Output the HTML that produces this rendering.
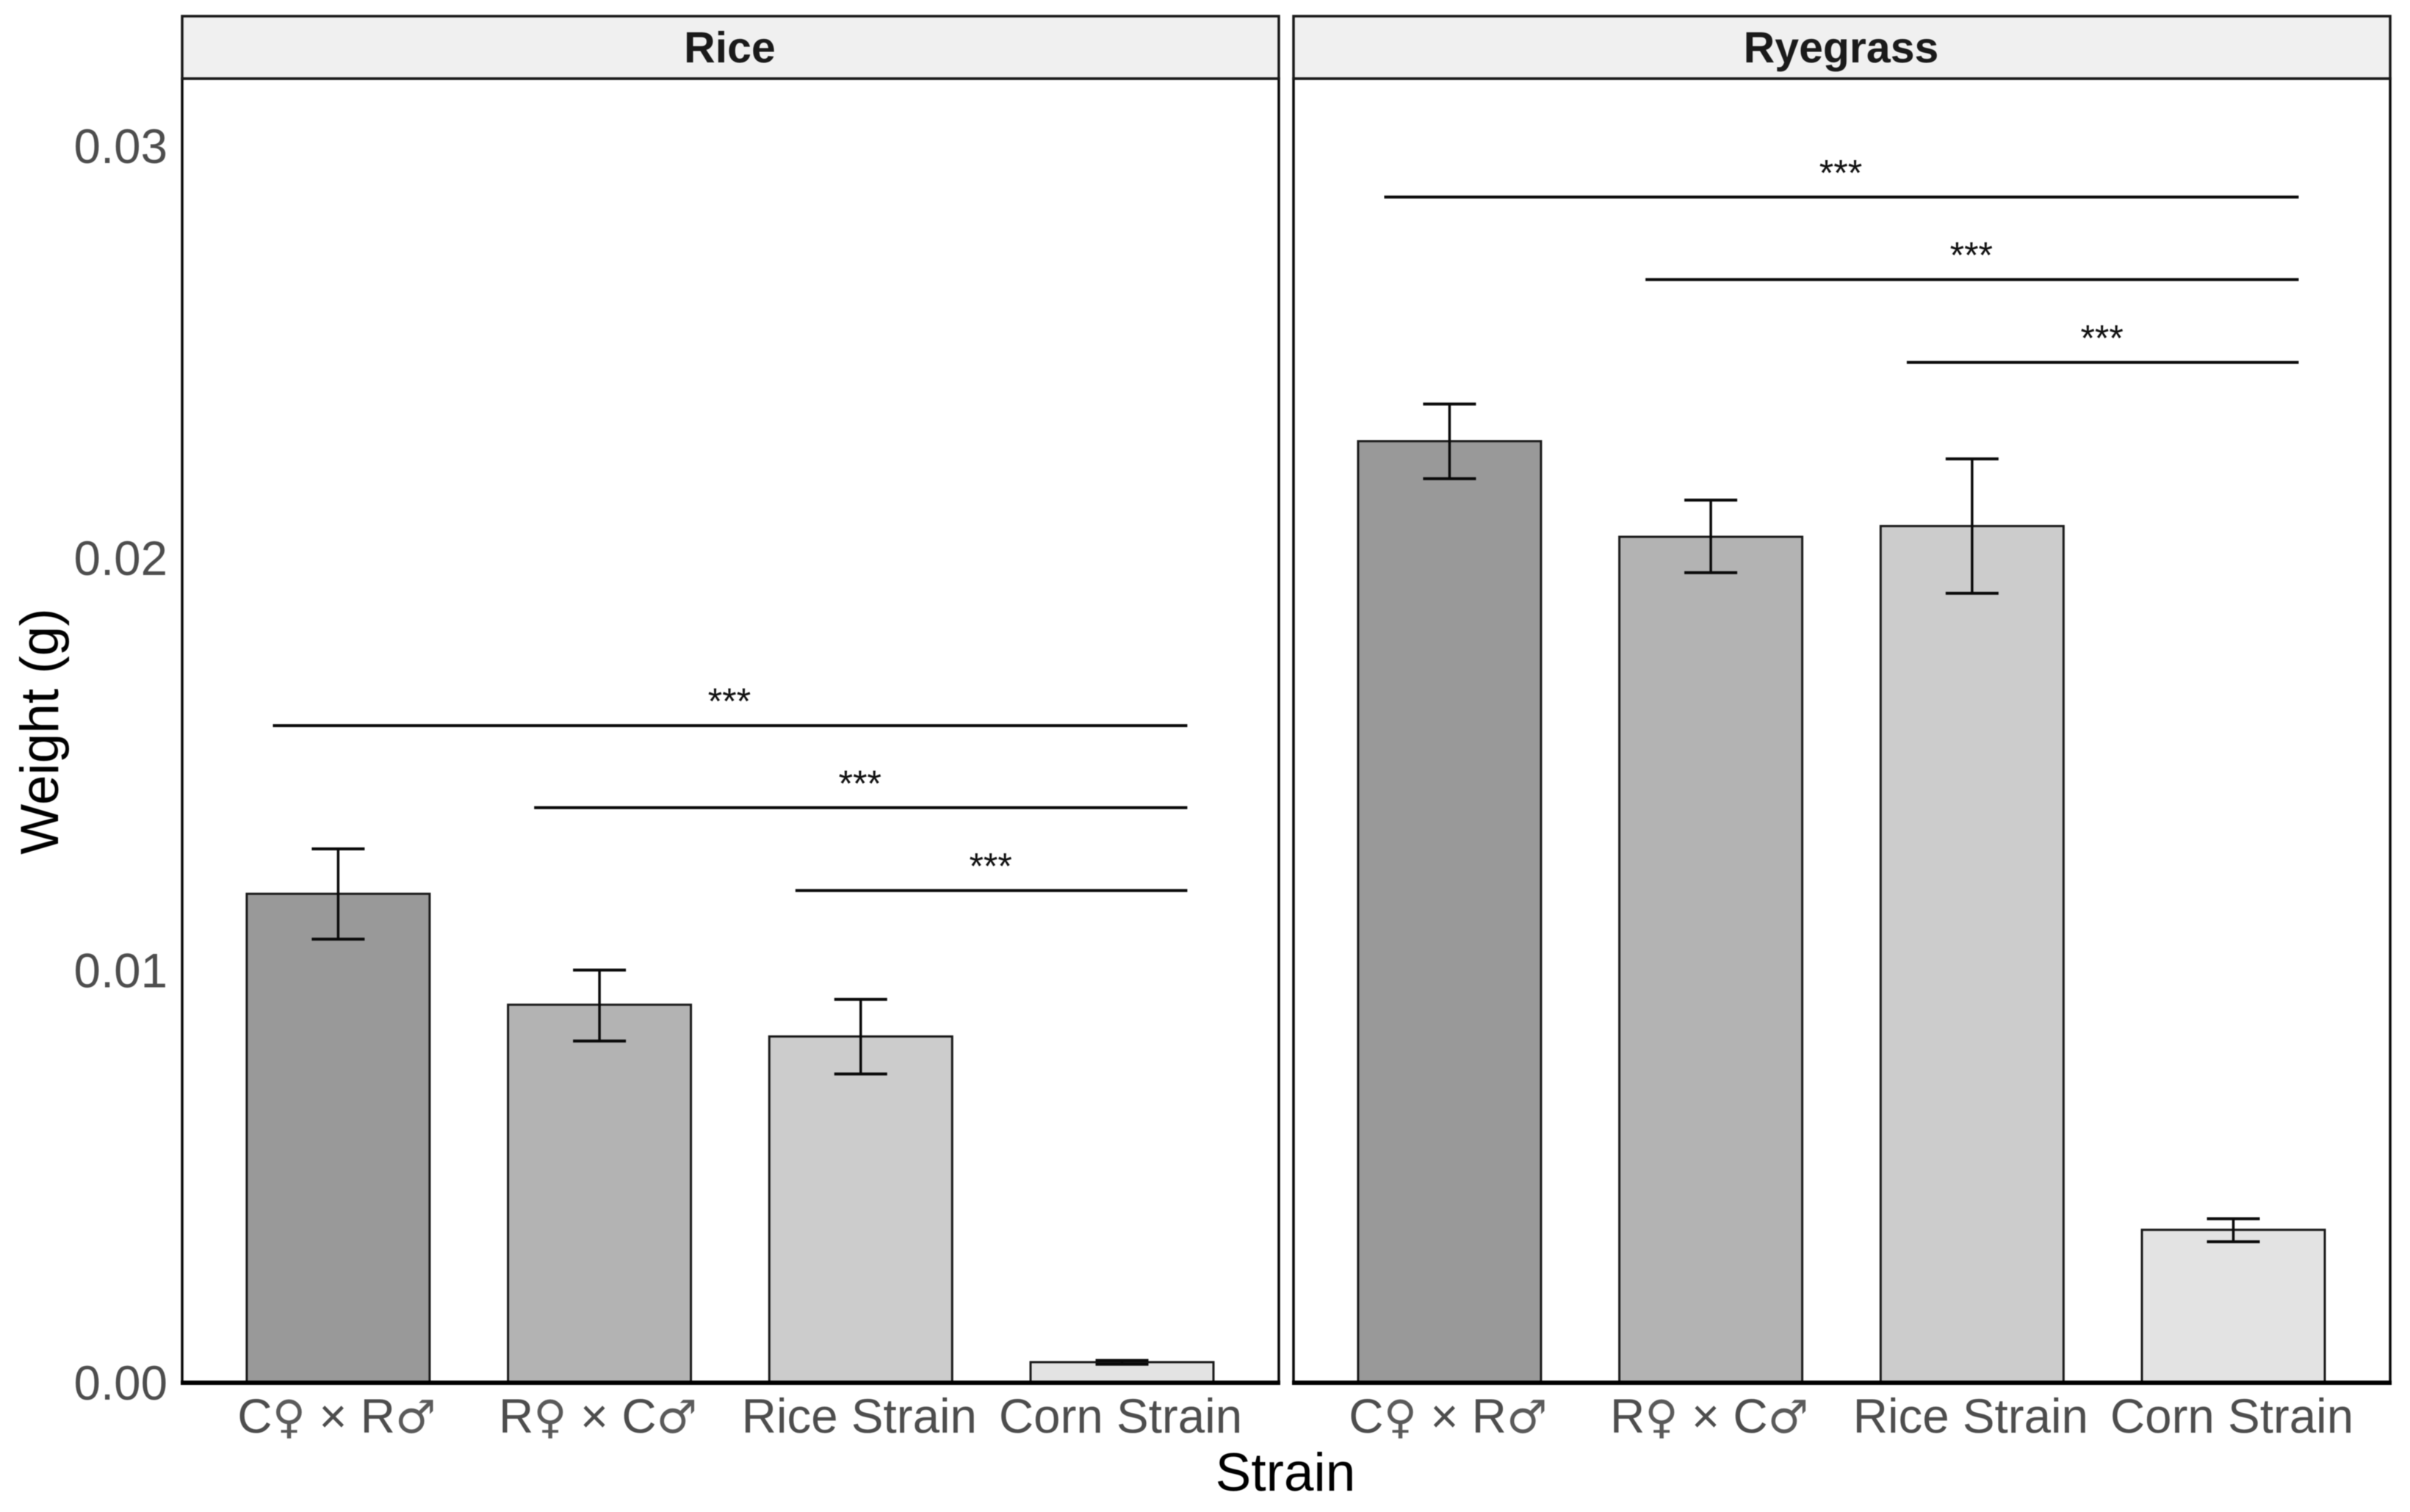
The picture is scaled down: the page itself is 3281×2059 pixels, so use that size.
<!DOCTYPE html>
<html lang="en">
<head>
<meta charset="utf-8">
<title>Weight by strain on rice and ryegrass</title>
<style>
html,body{margin:0;padding:0;background:#fff;}
svg{display:block;font-family:"Liberation Sans",Arial,sans-serif;filter:blur(0.6px);}
</style>
</head>
<body>
<svg id="chart" xmlns="http://www.w3.org/2000/svg" width="3281" height="2059" viewBox="0 0 3281 2059">
  <rect width="3281" height="2059" fill="#ffffff"/>
</svg>
<script>
var categories = ['C♀ × R♂', 'R♀ × C♂', 'Rice Strain', 'Corn Strain'];
var facets = ['Rice', 'Ryegrass'];
var riceMeans = [0.01186, 0.00917, 0.00840, 0.00050];
var riceUpper = [0.01295, 0.01001, 0.00930, 0.00054];
var riceLower = [0.01076, 0.00829, 0.00749, 0.00045];
var ryegrassMeans = [0.02284, 0.02052, 0.02078, 0.00371];
var ryegrassUpper = [0.02374, 0.02141, 0.02241, 0.00398];
var ryegrassLower = [0.02193, 0.01965, 0.01915, 0.00342];
var riceSigLevels = [0.01594, 0.01395, 0.01194];
var ryegrassSigLevels = [0.02876, 0.02676, 0.02475];
var sigStarts = [0.75, 1.75, 2.75];
var sigEnd = 4.25;
var sigLabels = ['***', '***', '***'];
var yTicks = [0, 0.01, 0.02, 0.03];
var yTickLabels = ['0.00', '0.01', '0.02', '0.03'];
var barFills = ['#999999', '#b3b3b3', '#cccccc', '#e3e3e3'];

var NS = 'http://www.w3.org/2000/svg';
var svg = document.getElementById('chart');
var Y0 = 1883, PX_PER_UNIT = 56140, TOP = 107, STRIP_TOP = 22;
var UNIT = 355.7, BAR_W = 0.7, CAP = 36;

function yScale(v) { return Y0 - v * PX_PER_UNIT; }
function xScale(left, c) { return left - 1 + (c - 0.4) * UNIT; }
function make(tag, attrs, text) {
  var el = document.createElementNS(NS, tag);
  for (var k in attrs) el.setAttribute(k, attrs[k]);
  if (text !== undefined) el.textContent = text;
  svg.appendChild(el);
  return el;
}
function fillLabel(textEl, str) {
  var parts = str.split(/([♀♂])/);
  parts.forEach(function (p) {
    if (!p) return;
    var sp = document.createElementNS(NS, 'tspan');
    sp.textContent = p;
    if (p === '♀' || p === '♂') {
      sp.setAttribute('font-family', '"DejaVu Sans", sans-serif');
      sp.setAttribute('font-size', '62');
      sp.setAttribute('fill', '#5a5a5a');
    }
    textEl.appendChild(sp);
  });
}

function drawPanel(slug, title, left, right, means, upper, lower, levels) {
  var el;
  var mid = (left + right) / 2;

  el = make('rect', {x: left, y: TOP, width: right - left, height: Y0 - TOP, fill: '#ffffff'});
  
  

  categories.forEach(function (cat, i) {
    var cx = xScale(left, i + 1);
    var top = yScale(means[i]);
    var w = BAR_W * UNIT;
    var bar = make('rect', {x: cx - w / 2, y: top, width: w, height: Y0 - top, fill: barFills[i], stroke: '#1a1a1a', 'stroke-width': 3});
    
    

    var yu = yScale(upper[i]), yl = yScale(lower[i]);
    var stem = make('line', {x1: cx, x2: cx, y1: yu, y2: yl, stroke: '#0a0a0a', 'stroke-width': 3.5});
    
    
    var capU = make('line', {x1: cx - CAP, x2: cx + CAP, y1: yu, y2: yu, stroke: '#0a0a0a', 'stroke-width': 4});
    
    
    var capL = make('line', {x1: cx - CAP, x2: cx + CAP, y1: yl, y2: yl, stroke: '#0a0a0a', 'stroke-width': 4});
    
    

    var lab = make('text', {x: cx - 2, y: 1951, 'text-anchor': 'middle', 'font-size': 65.5, fill: '#4d4d4d'});
    fillLabel(lab, cat);
    
    
  });

  levels.forEach(function (lv, i) {
    var x1 = xScale(left, sigStarts[i]), x2 = xScale(left, sigEnd), y = yScale(lv);
    var ln = make('line', {x1: x1, x2: x2, y1: y, y2: y, stroke: '#0a0a0a', 'stroke-width': 4});
    
    
    var st = make('text', {x: (x1 + x2) / 2 - 1, y: y - 16, 'text-anchor': 'middle', 'font-size': 50, fill: '#111111'}, sigLabels[i]);
    
    
  });

  el = make('rect', {x: left, y: TOP, width: right - left, height: Y0 - TOP, fill: 'none', stroke: '#0a0a0a', 'stroke-width': 3.5});
  
  

  el = make('rect', {x: left, y: STRIP_TOP, width: right - left, height: TOP - STRIP_TOP, fill: '#f0f0f0', stroke: '#1a1a1a', 'stroke-width': 3.5});
  
  

  el = make('text', {x: mid - 1, y: 85, 'text-anchor': 'middle', 'font-size': 59, 'font-weight': 'bold', fill: '#1a1a1a'}, title);
  
  

  el = make('line', {x1: left - 2, x2: right + 2, y1: Y0, y2: Y0, stroke: '#000000', 'stroke-width': 6});
  
  
}

drawPanel('rice', facets[0], 248, 1741, riceMeans, riceUpper, riceLower, riceSigLevels);
drawPanel('ryegrass', facets[1], 1761, 3254, ryegrassMeans, ryegrassUpper, ryegrassLower, ryegrassSigLevels);

yTicks.forEach(function (t, i) {
  var lab = make('text', {x: 228, y: yScale(t) + 23, 'text-anchor': 'end', 'font-size': 65.5, fill: '#4d4d4d'}, yTickLabels[i]);
  
  
});

var xTitle = make('text', {x: 1750, y: 2030, 'text-anchor': 'middle', 'font-size': 73, fill: '#000000'}, 'Strain');



var yTitle = make('text', {x: 0, y: 0, transform: 'translate(79 996) rotate(-90)', 'text-anchor': 'middle', 'font-size': 73, fill: '#000000'}, 'Weight (g)');


</script>
</body>
</html>
